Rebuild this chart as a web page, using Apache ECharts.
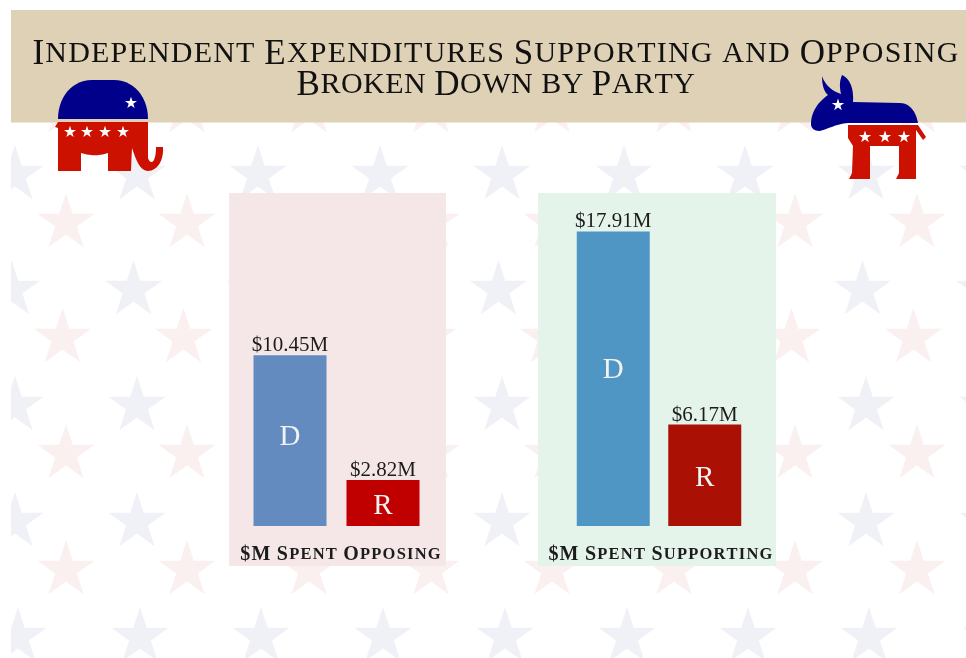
<!DOCTYPE html>
<html><head><meta charset="utf-8">
<style>html,body{margin:0;padding:0;background:#fff}#c{width:966px;height:658px}</style>
<script src="https://cdn.jsdelivr.net/npm/echarts@6/dist/echarts.min.js"></script>
</head><body><div id="c"></div>
<script>
const categories = ['D', 'R'];
const opposing = [10.45, 2.82];
const supporting = [17.91, 6.17];
const oppColors = ['#638BBF', '#C00000'];
const supColors = ['#5096C5', '#AB1004'];
const titleLines = ['Independent Expenditures Supporting and Opposing', 'Broken Down by Party'];
const oppName = '$M Spent Opposing';
const supName = '$M Spent Supporting';

const blueStarX = [15, 137, 258, 380, 502, 624, 745, 866, 988];
const redStarX = [66, 187, 309, 431, 552, 674, 795, 917];
const blueRows = [[175, 0], [290, -3.5], [406, 0], [522, 0], [637, 3]];
const redRows = [[108, 0], [223, 0], [338, -3.5], [454, 0], [570, 0]];

function smallCaps(s, suffix) {
  const x = suffix || '';
  return s.split('').map(c => {
    if (c === ' ') return '{s' + x + '| }';
    return (c === c.toLowerCase() && c !== c.toUpperCase()) ? '{s' + x + '|' + c.toUpperCase() + '}' : '{b' + x + '|' + c + '}';
  }).join('');
}
function starPts(cx, cy, R) {
  const p = [];
  for (let i = 0; i < 10; i++) {
    const r = i % 2 ? R * 0.382 : R, a = -Math.PI / 2 + i * Math.PI / 5;
    p.push([cx + r * Math.cos(a), cy + r * Math.sin(a)]);
  }
  return p;
}
function star(cx, cy, R, fill) { return { type: 'polygon', shape: { points: starPts(cx, cy, R) }, style: { fill } }; }
function pathPts(d) {
  const t = d.trim().split(/\s+/); let i = 0, cur = null; const pts = [];
  while (i < t.length) {
    const c = t[i++];
    if (c === 'M' || c === 'L') { cur = [+t[i], +t[i + 1]]; i += 2; pts.push(cur); }
    else if (c === 'C') {
      const a = [+t[i], +t[i + 1]], b = [+t[i + 2], +t[i + 3]], e = [+t[i + 4], +t[i + 5]]; i += 6;
      for (let k = 1; k <= 14; k++) {
        const u = k / 14, v = 1 - u;
        pts.push([v * v * v * cur[0] + 3 * v * v * u * a[0] + 3 * v * u * u * b[0] + u * u * u * e[0],
                  v * v * v * cur[1] + 3 * v * v * u * a[1] + 3 * v * u * u * b[1] + u * u * u * e[1]]);
      }
      cur = e;
    }
  }
  return pts;
}
function shapeEl(d, fill) { return { type: 'polygon', shape: { points: pathPts(d) }, style: { fill } }; }

const NAVY = '#00008B', RED = '#CC1100', WHITE = '#FFFFFF';
const elements = [];
blueRows.forEach(([y, dx]) => blueStarX.forEach(x => elements.push(star(x + dx, y, 30, '#F0F1F6'))));
redRows.forEach(([y, dx]) => redStarX.forEach(x => elements.push(star(x + dx, y, 30, '#FBF0F0'))));
elements.push({ type: 'rect', shape: { x: 0, y: 0, width: 11, height: 658 }, style: { fill: WHITE } });
elements.push({ type: 'rect', shape: { x: 0, y: 0, width: 966, height: 10 }, style: { fill: WHITE } });
elements.push({ type: 'rect', shape: { x: 11, y: 10, width: 955, height: 112.5 }, style: { fill: '#DED1B6' } });
elements.push({ type: 'rect', shape: { x: 229, y: 193, width: 217, height: 373 }, style: { fill: '#F5E7E8' } });
elements.push({ type: 'rect', shape: { x: 538, y: 193, width: 238, height: 373 }, style: { fill: '#E4F4EB' } });
// elephant
elements.push(shapeEl('M 58 119 C 58 97 72 80 92 80 L 114 80 C 134 80 148 97 148 119 Z', NAVY));
elements.push(shapeEl('M 55 127 L 58 122 L 148 122 L 148 158 C 150 165 156 164 156 147 L 163 147 C 164 162 156 171 148 171 C 140 171 136 160 132 148 L 131 171 L 108 171 L 108 153 C 100 156 90 156 81 153 L 81 171 L 58 171 L 58 128 Z', RED));
[[70, 132], [87, 132], [105, 132], [123, 132], [131, 103]].forEach(p => elements.push(star(p[0], p[1], 6.3, WHITE)));
// donkey
elements.push(shapeEl('M 811 124 C 811 112 818 102 828 95 C 824 92 822 85 822 76 C 825 85 832 91 841 94 C 839 85 840 80 842 75 C 849 78 854 87 853 102 L 900 103 C 910 103 916 112 918 123 L 848 123 C 837 124 830 128 820 131 C 815 131 811 129 811 124 Z', NAVY));
elements.push(shapeEl('M 848 125 L 918 125 L 926 137 L 923 140 L 916 130 L 916 179 L 896 179 L 899 173 L 899 146 L 870 146 L 870 179 L 849 179 L 852 173 L 853 146 L 848 138 Z', RED));
[[865, 137], [885, 137], [904, 137], [838, 105]].forEach(p => elements.push(star(p[0], p[1], 6.5, WHITE)));

const labelFont = '"Liberation Serif", serif';
function barSeries(idx, vals, colors, offsets) {
  return [{
    type: 'bar', xAxisIndex: idx, yAxisIndex: idx, barWidth: 73, barGap: '-100%', z: 3,
    data: vals.map((v, i) => ({ value: v, itemStyle: { color: colors[i] } })),
    label: { show: true, position: 'top', distance: -1, color: '#1c1c1c', fontFamily: labelFont, fontSize: 21,
             formatter: p => '$' + p.value.toFixed(2) + 'M' }
  }, {
    type: 'bar', xAxisIndex: idx, yAxisIndex: idx, barWidth: 73, barGap: '-100%', z: 4, silent: true,
    itemStyle: { color: 'transparent' },
    data: vals.map((v, i) => ({ value: v, label: { offset: [0, offsets[i]] } })),
    label: { show: true, position: 'inside', color: '#F2F2F2', fontFamily: labelFont, fontSize: 29, formatter: p => p.name }
  }];
}
function xAxis(idx, name, pad) {
  return { type: 'category', gridIndex: idx, data: categories,
    axisLine: { show: false }, axisTick: { show: false }, axisLabel: { show: false }, splitLine: { show: false },
    name: smallCaps(name), nameLocation: 'middle', nameGap: 19,
    nameTextStyle: { padding: [0, 0, 0, pad], rich: {
      b: { fontFamily: labelFont, fontSize: 20, color: '#1c1c1c', fontWeight: 'bold', padding: [0, 1.2, 0, 0] },
      s: { fontFamily: labelFont, fontSize: 16.5, color: '#1c1c1c', fontWeight: 'bold', padding: [0, 1.2, 0, 0] } } } };
}
function yAxis(idx) {
  return { type: 'value', gridIndex: idx, min: 0, max: 20, show: false, splitLine: { show: false } };
}
const titleStyle = (size, pad) => ({ fontFamily: labelFont, fontSize: size, color: '#111', lineHeight: 31, fontWeight: 'normal', padding: [0, pad, 0, 0] });
const chart = echarts.init(document.getElementById('c'), null, { renderer: 'canvas' });
chart.setOption({
  animation: false,
  backgroundColor: '#FFFFFF',
  title: {
    text: smallCaps(titleLines[0]) + '\n' + smallCaps(titleLines[1], '2'),
    left: 491, top: 34, textAlign: 'center',
    textStyle: { lineHeight: 31, fontWeight: 'normal', rich: {
      b: titleStyle(35, 1.2), s: titleStyle(30, 1.2), b2: titleStyle(35, 0.5), s2: titleStyle(30, 0.5) } }
  },
  graphic: { elements },
  grid: [
    { left: 243.5, top: 199, width: 186, height: 327 },
    { left: 567.5, top: 197, width: 183, height: 329 }
  ],
  xAxis: [xAxis(0, oppName, 9), xAxis(1, supName, 4)],
  yAxis: [yAxis(0), yAxis(1)],
  series: [...barSeries(0, opposing, oppColors, [-3, 3]), ...barSeries(1, supporting, supColors, [-8, 3])]
});
</script></body></html>
